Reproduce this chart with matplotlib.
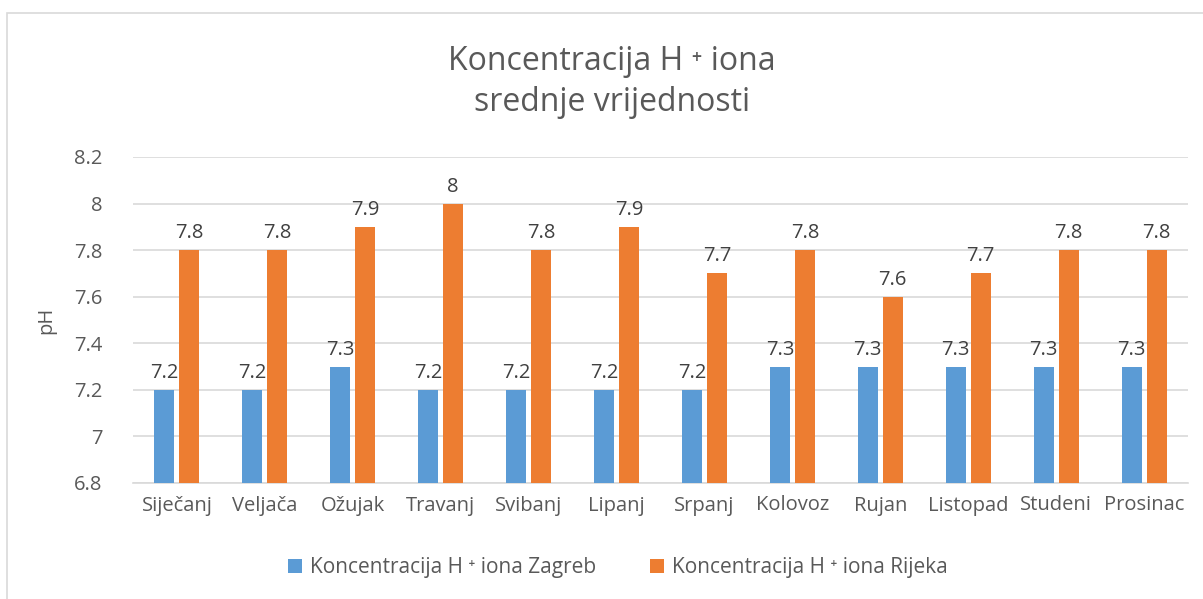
import matplotlib
matplotlib.use("Agg")
import matplotlib.pyplot as plt
import numpy as np
from matplotlib.patches import Rectangle

months = ["Siječanj", "Veljača", "Ožujak", "Travanj", "Svibanj", "Lipanj",
          "Srpanj", "Kolovoz", "Rujan", "Listopad", "Studeni", "Prosinac"]
zagreb = [7.2, 7.2, 7.3, 7.2, 7.2, 7.2, 7.2, 7.3, 7.3, 7.3, 7.3, 7.3]
rijeka = [7.8, 7.8, 7.9, 8.0, 7.8, 7.9, 7.7, 7.8, 7.6, 7.7, 7.8, 7.8]
yticks = [6.8, 7.0, 7.2, 7.4, 7.6, 7.8, 8.0, 8.2]
ytick_labels = ["6.8", "7", "7.2", "7.4", "7.6", "7.8", "8", "8.2"]

plt.rcParams['font.family'] = ['Open Sans', 'DejaVu Sans']
TXT = "#595959"
BLUE = "#5B9BD5"
ORANGE = "#ED7D31"
GRID = "#D9D9D9"

fig = plt.figure(figsize=(12.03, 5.99), dpi=100)
fig.patch.set_facecolor("white")
fig.add_artist(Rectangle((7/1203, -0.01), 1.02, 1 - 13/599 + 0.01, transform=fig.transFigure,
                         fill=False, edgecolor=GRID, linewidth=1.2))

ax = fig.add_axes([133/1203, 1 - 483/599, (1188 - 133)/1203, (483 - 157)/599])
x = np.arange(len(months))
w = 0.228
off = 0.142
b1 = ax.bar(x - off, zagreb, w, color=BLUE, label="Koncentracija H ⁺ iona Zagreb", zorder=3)
b2 = ax.bar(x + off, rijeka, w, color=ORANGE, label="Koncentracija H ⁺ iona Rijeka", zorder=3)

for bars, vals in ((b1, zagreb), (b2, rijeka)):
    for r, v in zip(bars, vals):
        lab = f"{v:g}"
        ax.annotate(lab, (r.get_x() + r.get_width()/2, v), xytext=(0, 5),
                    textcoords="offset points", ha="center", va="bottom",
                    fontsize=14.5, color="#404040")

ax.set_ylim(6.8, 8.2)
ax.set_xlim(-0.5, len(months) - 0.5)
ax.set_yticks(yticks)
ax.set_yticklabels(ytick_labels)
ax.set_xticks(x)
ax.set_xticklabels(months)
ax.tick_params(axis='both', length=0, labelsize=14.5, colors=TXT)
ax.tick_params(axis='y', pad=22)
ax.tick_params(axis='x', pad=9)
ax.grid(axis='y', color=GRID, linewidth=1.2, zorder=0)
for s in ["top", "right", "left"]:
    ax.spines[s].set_visible(False)
ax.spines["bottom"].set_color(GRID)
ax.spines["bottom"].set_linewidth(1.2)
ax.set_ylabel("pH", fontsize=14.5, color=TXT, labelpad=13)

fig.text(612/1203, 1 - 82/599, "Koncentracija H ⁺ iona\nsrednje vrijednosti", ha="center",
         va="center", fontsize=23, color=TXT, linespacing=1.35)

leg = fig.legend(handles=[b1, b2], loc="center", bbox_to_anchor=(618/1203, 1 - 568/599),
                 ncol=2, frameon=False, fontsize=15, handlelength=0.65, handleheight=0.65,
                 columnspacing=2.6, handletextpad=0.4)
for t in leg.get_texts():
    t.set_color(TXT)

fig.savefig("out.png", dpi=100, facecolor="white")
